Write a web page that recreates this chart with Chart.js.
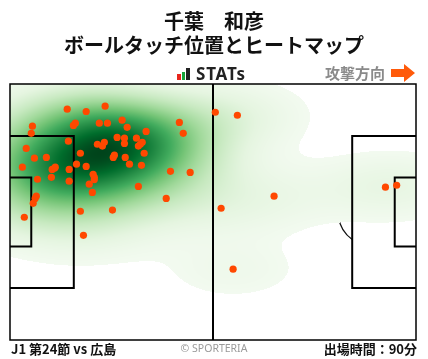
<!DOCTYPE html>
<html><head><meta charset="utf-8">
<script src="https://cdn.jsdelivr.net/npm/chart.js@4/dist/chart.umd.min.js"></script>
<style>
html,body{margin:0;padding:0;background:#fff;}
#wrap{position:relative;width:428px;height:359px;overflow:hidden;font-family:"Noto Sans CJK JP","Noto Sans",sans-serif;}
.t{position:absolute;white-space:nowrap;}
#c{position:absolute;left:0;top:0;}
</style></head>
<body><div id="wrap">
<canvas id="c" width="428" height="359"></canvas>
<div class="t" style="left:0;width:428px;top:10px;text-align:center;font-weight:bold;font-size:20px;line-height:22px;color:#111;">千葉　和彦</div>
<div class="t" style="left:0;width:428px;top:34px;text-align:center;font-weight:bold;font-size:20px;line-height:22px;color:#111;">ボールタッチ位置とヒートマップ</div>
<div class="t" style="left:177px;top:74px;width:4px;height:6px;background:#e8251c;"></div>
<div class="t" style="left:182px;top:72px;width:3px;height:8px;background:#1aa33a;"></div>
<div class="t" style="left:186px;top:68px;width:4px;height:12px;background:#222;"></div>
<div class="t" style="left:196px;top:63px;font-family:'Noto Sans',sans-serif;font-weight:bold;font-size:17px;line-height:22px;color:#222;letter-spacing:0.8px;">STATs</div>
<div class="t" style="left:325px;top:63px;font-weight:bold;font-size:15px;line-height:20px;color:#8a8a8a;">攻撃方向</div>
<svg class="t" style="left:390px;top:63px;" width="26" height="20"><polygon points="1,6 14,6 14,1 25,10 14,19 14,14 1,14" fill="#ff5a0a"/></svg>
<div class="t" style="left:11px;top:341px;font-weight:bold;font-size:13px;line-height:16px;color:#111;">J1 第24節 vs 広島</div>
<div class="t" style="left:0;width:428px;top:341px;text-align:center;font-family:'Noto Sans',sans-serif;font-size:10.5px;line-height:14px;color:#9a9a9a;">© SPORTERIA</div>
<div class="t" style="right:11px;top:341px;font-weight:bold;font-size:13px;line-height:16px;color:#111;">出場時間：90分</div>
</div>
<script>
// Ball touch positions (metres; x: 0-105 toward attack direction, y: 0-68 from top)
const touchX = [14.8,19.7,24.6,5.8,5.5,16.4,16.9,23.1,25.2,29.0,30.3,35.2,43.8,44.8,15.1,4.2,18.2,22.6,23.9,24.4,27.7,29.6,29.6,32.7,33.2,33.7,34.2,34.7,26.7,27.0,29.8,30.9,34.0,41.5,46.6,6.3,9.4,3.2,10.9,11.7,11.5,15.3,17.2,19.7,21.5,21.8,21.8,20.5,21.3,10.7,7.1,15.3,33.2,40.4,6.8,6.5,6.0,18.2,26.5,3.7,19.0,53.1,58.8,68.3,54.6,57.7,97.1,100.0];
const touchY = [6.7,7.3,5.9,11.2,13.1,11.0,10.4,10.4,10.4,9.6,11.5,12.6,10.2,13.1,15.2,17.1,18.4,16.0,16.5,15.5,14.2,14.4,15.8,14.4,16.5,16.0,15.5,18.4,19.5,18.9,19.5,21.3,21.6,23.2,23.5,19.7,19.5,22.1,22.7,22.1,22.4,22.7,21.3,21.9,24.0,24.8,25.4,26.6,28.8,24.8,25.3,25.8,27.2,30.4,29.8,30.4,31.7,33.8,33.5,35.4,40.2,7.5,8.3,29.8,33.0,49.2,27.4,26.9];
const pitchLength = 105, pitchWidth = 68;
const kdeBandwidth = [12.5, 5.8]; // metres
const greens = ['#f7fcf5','#e5f5e0','#c7e9c0','#a1d99b','#74c476','#41ab5d','#238b45','#006d2c','#00441b'];

function hex(c){return [parseInt(c.slice(1,3),16),parseInt(c.slice(3,5),16),parseInt(c.slice(5,7),16)];}
const gRGB = greens.map(hex);
function cmap(t){
  t=Math.max(0,Math.min(1,t));
  const f=t*(gRGB.length-1), i=Math.min(gRGB.length-2,Math.floor(f)), r=f-i;
  return gRGB[i].map((v,k)=>v+(gRGB[i+1][k]-v)*r);
}

const pitchPlugin = {
  id:'pitch',
  beforeDatasetsDraw(chart){
    const {ctx, chartArea:a, scales:{x, y}} = chart;
    const px=v=>x.getPixelForValue(v), py=v=>y.getPixelForValue(v);
    const sx=(px(1)-px(0)), sy=(py(1)-py(0));
    ctx.save();
    // circle & arcs (under heatmap)
    ctx.strokeStyle='#111'; ctx.lineWidth=1.2;
    const r=9.15, ang=Math.acos(5.5/9.15);
    ctx.beginPath(); ctx.ellipse(px(52.5),py(34),r*sx,r*sy,0,0,Math.PI*2); ctx.stroke();
    ctx.beginPath(); ctx.ellipse(px(11),py(34),r*sx,r*sy,0,-ang,ang); ctx.stroke();
    ctx.beginPath(); ctx.ellipse(px(94),py(34),r*sx,r*sy,0,Math.PI-ang,Math.PI+ang); ctx.stroke();

    // heatmap (gaussian KDE of touches)
    const W=Math.round(a.width), H=Math.round(a.height);
    const off=document.createElement('canvas'); off.width=W; off.height=H;
    const octx=off.getContext('2d'); const img=octx.createImageData(W,H);
    const pts=touchX.map((v,i)=>[px(v)-a.left, py(touchY[i])-a.top]);
    const bx=kdeBandwidth[0]*sx, by=kdeBandwidth[1]*sy;
    const dens=new Float32Array(W*H); let mx=0;
    for(let j=0;j<H;j++){for(let i=0;i<W;i++){
      let s=0; const cx=i+0.5, cy=j+0.5;
      for(const p of pts){const dx=(cx-p[0])/bx, dy=(cy-p[1])/by; s+=Math.exp(-0.5*(dx*dx+dy*dy));}
      dens[j*W+i]=s; if(s>mx) mx=s;
    }}
    const thr=0.02;
    for(let k=0;k<W*H;k++){
      const d=dens[k]/mx;
      if(d<thr) continue;
      const c=cmap(0.03+0.97*Math.pow((d-thr)/(1-thr),0.9));
      img.data[k*4]=c[0]; img.data[k*4+1]=c[1]; img.data[k*4+2]=c[2]; img.data[k*4+3]=255;
    }
    octx.putImageData(img,0,0);
    ctx.drawImage(off,a.left,a.top,a.width,a.height);

    // pitch lines
    ctx.strokeStyle='#000';
    ctx.lineWidth=2;
    ctx.beginPath(); ctx.moveTo(px(52.5),py(0)); ctx.lineTo(px(52.5),py(68)); ctx.stroke();
    const box=(x0,x1,y0,y1)=>{ctx.beginPath();ctx.moveTo(px(x0),py(y0));ctx.lineTo(px(x1),py(y0));ctx.lineTo(px(x1),py(y1));ctx.lineTo(px(x0),py(y1));ctx.stroke();};
    box(0,16.5,13.84,54.16); box(0,5.5,24.84,43.16);
    box(105,88.5,13.84,54.16); box(105,99.5,24.84,43.16);
    ctx.lineWidth=1.5;
    ctx.strokeRect(px(0),py(0),px(105)-px(0),py(68)-py(0));
    ctx.restore();
  }
};

new Chart(document.getElementById('c'),{
  type:'scatter',
  data:{datasets:[{
    data:touchX.map((v,i)=>({x:v,y:touchY[i]})),
    backgroundColor:'#ff4800', borderWidth:0, pointRadius:3.6, pointHoverRadius:3.6
  }]},
  options:{
    responsive:false, animation:false, devicePixelRatio:1,
    layout:{padding:{left:10,right:12,top:84,bottom:19}},
    plugins:{legend:{display:false},tooltip:{enabled:false}},
    scales:{
      x:{type:'linear',min:0,max:pitchLength,display:false},
      y:{type:'linear',min:0,max:pitchWidth,reverse:true,display:false}
    }
  },
  plugins:[pitchPlugin]
});
</script>
</body></html>
